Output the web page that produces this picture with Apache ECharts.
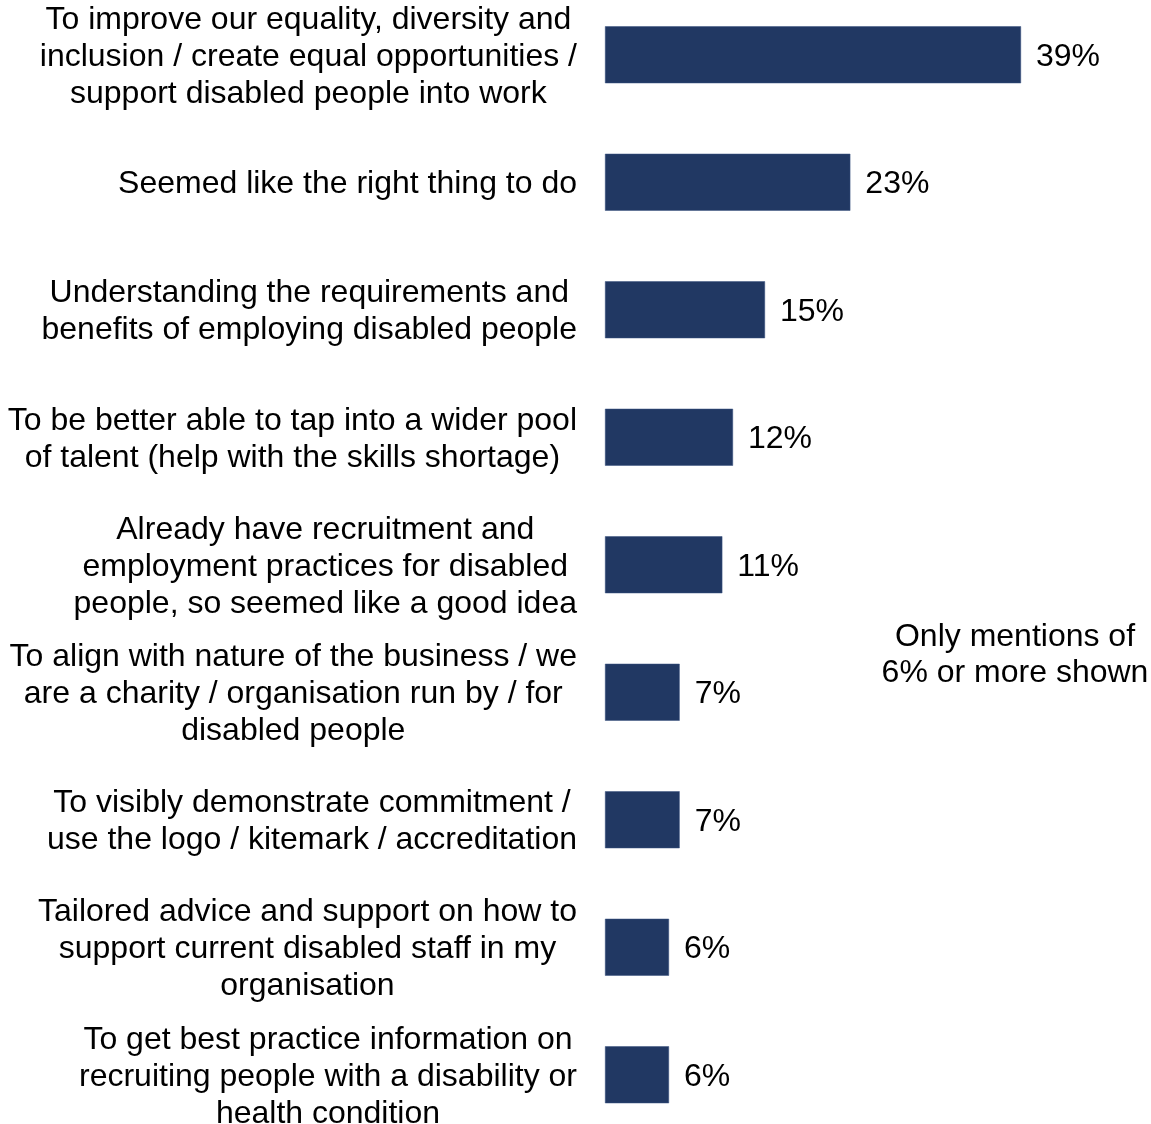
<!DOCTYPE html>
<html>
<head>
<meta charset="utf-8">
<title>Reasons for joining</title>
<script src="https://cdn.jsdelivr.net/npm/echarts@6/dist/echarts.min.js"></script>
<style>
  html, body { margin: 0; padding: 0; background: #ffffff; }
  #chart { width: 1151px; height: 1124px; }
</style>
</head>
<body>
<div id="chart"></div>
<script>
// Reasons given, top to bottom, with line breaks as displayed
const categories = [
  'To improve our equality, diversity and\ninclusion / create equal opportunities /\nsupport disabled people into work',
  'Seemed like the right thing to do',
  'Understanding the requirements and\nbenefits of employing disabled people',
  'To be better able to tap into a wider pool\nof talent (help with the skills shortage)',
  'Already have recruitment and\nemployment practices for disabled\npeople, so seemed like a good idea',
  'To align with nature of the business / we\nare a charity / organisation run by / for\ndisabled people',
  'To visibly demonstrate commitment /\nuse the logo / kitemark / accreditation',
  'Tailored advice and support on how to\nsupport current disabled staff in my\norganisation',
  'To get best practice information on\nrecruiting people with a disability or\nhealth condition'
];

// Share of mentions (%)
const values = [39, 23, 15, 12, 11, 7, 7, 6, 6];

const noteLines = ['Only mentions of', '6% or more shown'];

const FONT = '"Liberation Sans", Arial, sans-serif';
const FONT_SIZE = 32;
const BAR_COLOR = '#213863';

// Each line of a label is centred inside its block; the block is right-aligned to the axis
function centredLines(text) {
  return text.split('\n').map(l => '{c|' + l + '}').join('\n');
}

const chart = echarts.init(document.getElementById('chart'), null, { renderer: 'canvas' });

chart.setOption({
  backgroundColor: '#ffffff',
  animation: false,
  grid: {
    left: 605, top: -9, width: 480, height: 1147.5,
    containLabel: false,
    outerBoundsMode: 'none'
  },
  xAxis: {
    type: 'value',
    min: 0,
    max: 45,
    show: false
  },
  yAxis: {
    type: 'category',
    data: categories,
    inverse: true,
    axisLine: { show: false },
    axisTick: { show: false },
    splitLine: { show: false },
    axisLabel: {
      interval: 0,
      margin: 28,
      align: 'right',
      verticalAlign: 'middle',
      padding: [4, 0, 0, 0],
      color: '#000000',
      fontFamily: FONT,
      fontSize: FONT_SIZE,
      lineHeight: 37,
      formatter: v => centredLines(v),
      rich: {
        c: { align: 'center', fontFamily: FONT, fontSize: FONT_SIZE, lineHeight: 37, color: '#000000' }
      }
    }
  },
  series: [{
    type: 'bar',
    data: values,
    barWidth: 57,
    itemStyle: { color: BAR_COLOR, borderColor: '#3a5280', borderWidth: 0.5 },
    label: {
      show: true,
      position: 'right',
      distance: 15,
      offset: [0, 2],
      formatter: p => p.value + '%',
      color: '#000000',
      fontFamily: FONT,
      fontSize: FONT_SIZE
    },
    silent: true
  }],
  graphic: [{
    type: 'text',
    x: 1015,
    y: 655,
    style: {
      text: noteLines.join('\n'),
      align: 'center',
      verticalAlign: 'middle',
      font: FONT_SIZE + 'px ' + FONT,
      lineHeight: 36,
      fill: '#000000'
    }
  }]
});
</script>
</body>
</html>
